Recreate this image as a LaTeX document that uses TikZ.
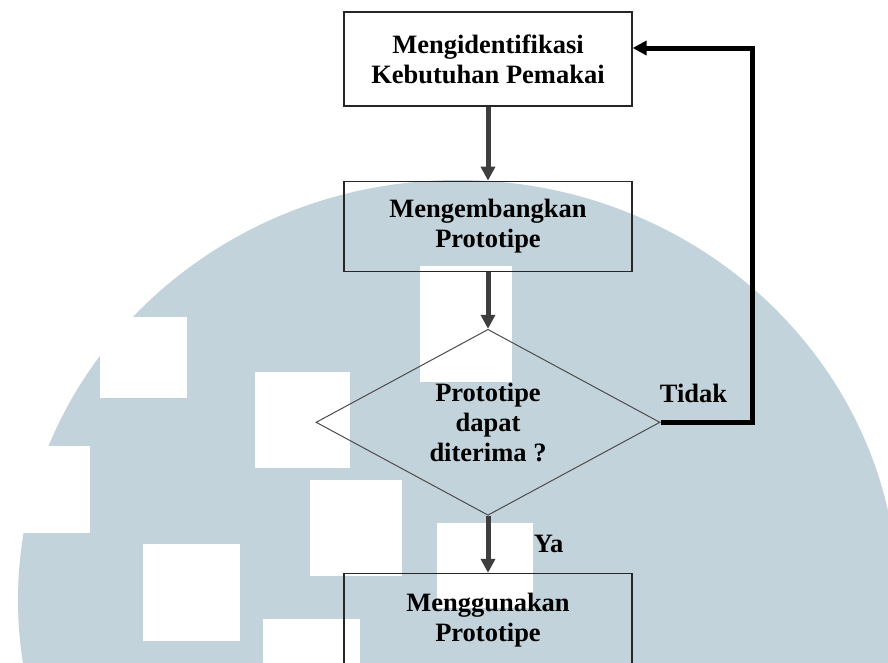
\documentclass[tikz,border=0pt]{standalone}
\usepackage{fontspec}
\setmainfont{Liberation Serif}
\usetikzlibrary{arrows.meta, positioning, shapes.geometric}
\definecolor{dome}{RGB}{195,211,219}
\definecolor{arrowgrey}{RGB}{62,62,62}

\begin{document}
\begin{tikzpicture}[
  x=1pt, y=-1pt,
  font=\bfseries\fontsize{26.5}{30}\selectfont,
  stepbox/.style={rectangle, draw=black!85, line width=1.2pt, minimum width=288pt, minimum height=92pt, align=center},
  decision/.style={diamond, draw=black!70, line width=1pt, minimum width=344pt, minimum height=186pt, aspect=1.85, inner sep=0pt, align=center},
  flow/.style={-{Triangle[length=14pt, width=14pt]}, line width=5pt, arrowgrey},
  answer/.style={text=black}
]
\clip (0,0) rectangle (888,662);

% watermark in the back
\fill[dome] (458,600) ellipse [x radius=440pt, y radius=420pt];
\fill[white] (100,317) rectangle (187,398);
\fill[white] (420,266) rectangle (512,382);
\fill[white] (255,372) rectangle (350,468);
\fill[white] (310,480) rectangle (402,576);
\fill[white] (143,544) rectangle (240,641);
\fill[white] (263,619) rectangle (360,670);
\fill[white] (20,446) rectangle (90,533);
\fill[white] (437,523) rectangle (533,608);

\node[stepbox, minimum height=94pt] (ident) at (488,59) {Mengidentifikasi\\Kebutuhan Pemakai};
\node[stepbox, minimum height=90pt, below=74pt of ident] (build) {Mengembangkan\\Prototipe};
\node[decision, below=57pt of build] (check) {Prototipe\\dapat\\diterima ?};
\node[stepbox, minimum height=94pt, below=57pt of check] (use) {Menggunakan\\Prototipe};

\coordinate (corner) at (752,48);

\draw[flow] (ident) -- (build);
\draw[flow] (build) -- (check);
\draw[flow] (check) -- node[answer, right=40pt] {Ya} (use);
\draw[flow, black] (check.east) -| node[answer, pos=0.18, above=14pt] {Tidak} (corner) -- (corner -| ident.east);
\end{tikzpicture}
\end{document}
